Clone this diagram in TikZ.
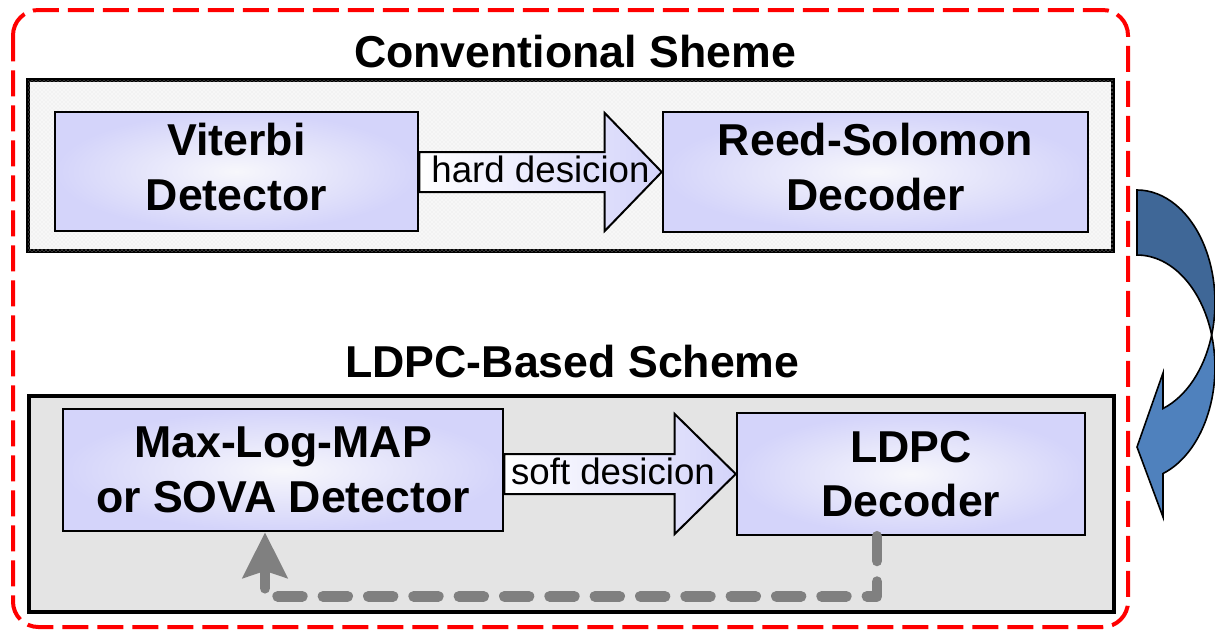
\documentclass[tikz,border=0pt]{standalone}
\usepackage{fontspec}
\setmainfont{Liberation Sans}
\usetikzlibrary{calc,arrows.meta,patterns}

\definecolor{boxedge}{HTML}{D4D4FA}
\definecolor{boxmid}{HTML}{F7F7FB}
\definecolor{lowpanel}{HTML}{E4E4E4}
\definecolor{toppanel}{HTML}{F7F7F7}
\definecolor{framered}{HTML}{FF0000}
\definecolor{fbgray}{HTML}{808080}
\definecolor{bluedark}{HTML}{3F6797}
\definecolor{bluelight}{HTML}{4F81BD}

\begin{document}
\begin{tikzpicture}[x=0.75pt,y=-0.75pt,
  panel/.style={draw=black, line width=2.6pt, inner sep=0pt},
  procbox/.style={draw=black, line width=1.9pt, shading=radial,
    inner color=boxmid, outer color=boxedge, align=center, inner sep=0pt,
    font=\fontsize{33.5}{41}\selectfont\bfseries},
  raisedtext/.style={text depth=7.5pt},
  heading/.style={anchor=base, inner sep=0pt, font=\fontsize{33.5}{40}\selectfont\bfseries},
  blockarrow/.style={draw=black, line width=1.5pt, line join=miter,
    left color=white, right color=boxedge},
  arrowlabel/.style={anchor=base, inner sep=0pt, font=\fontsize{27.5}{33}\selectfont},
  feedback/.style={draw=fbgray, line width=8pt, dash pattern=on 18.5pt off 15.5pt,
    line cap=round, line join=round,
    -{Stealth[length=34pt, width=33pt, inset=5pt, fill=fbgray]}},
  outerframe/.style={draw=framered, line width=3pt, dash pattern=on 19.5pt off 6.75pt,
    rounded corners=19pt},
  curvefill/.style={draw=black, line width=1.2pt, line join=miter}
]
\useasboundingbox (0,0) rectangle (1215,632);
\fill[white] (0,0) rectangle (1215,632);

% outer dashed frame
\draw[outerframe] (13,10) rectangle (1128,627);

% panels
\node[panel, fill=toppanel, minimum width=813.75pt, minimum height=128.25pt,
  postaction={pattern=crosshatch dots, pattern color=gray!22}]
  (toppanel) at (570.5,165.5) {};
\node[panel, fill=lowpanel, minimum width=813.75pt, minimum height=162pt]
  (lowpanel) at (571.5,504) {};

% headings
\node[heading] (conv) at (575,67) {Conventional Sheme};
\node[heading] (ldpcs) at (572.5,377) {LDPC-Based Scheme};

% processing blocks
\node[procbox, raisedtext, minimum width=272.25pt, minimum height=89.25pt] (vit) at (236.5,171.5)
  {Viterbi\\Detector};
\node[procbox, raisedtext, minimum width=318.75pt, minimum height=90pt] (rs) at (875.5,172)
  {Reed-Solomon\\Decoder};
\node[procbox, minimum width=330pt, minimum height=91.5pt] (maxlog) at (283,470)
  {Max-Log-MAP\\or SOVA Detector};
\node[procbox, minimum width=261pt, minimum height=91.5pt] (ldpc) at (911,474)
  {LDPC\\Decoder};

% hard decision block arrow
\path[blockarrow] ($(vit.east |- rs.west)+(0,-20)$) -- ($(rs.west)+(-57,-20)$)
  -- ($(rs.west)+(-57,-59)$) -- (rs.west) -- ($(rs.west)+(-57,59)$)
  -- ($(rs.west)+(-57,20)$) -- ($(vit.east |- rs.west)+(0,20)$) -- cycle;
\node[arrowlabel] (hard) at ($($(vit.east)!0.5!(rs.west)$)+(0,11)$) {hard desicion};

% soft decision block arrow
\path[blockarrow] ($(maxlog.east |- ldpc.west)+(0,-20)$) -- ($(ldpc.west)+(-61,-20)$)
  -- ($(ldpc.west)+(-61,-60)$) -- (ldpc.west) -- ($(ldpc.west)+(-61,60)$)
  -- ($(ldpc.west)+(-61,20)$) -- ($(maxlog.east |- ldpc.west)+(0,20)$) -- cycle;
\node[arrowlabel] (soft) at ($($(maxlog.east)!0.5!(ldpc.west)$)+(-7,12)$) {soft desicion};

% iterative feedback path
\coordinate (fbturn) at ($(maxlog.south)+(-18,64)$);
\draw[feedback] ($(ldpc.south)+(-34,0)$) |- (fbturn) -- ($(maxlog.south)+(-18,0)$);

% curved arrow from the upper scheme to the lower one
\path[curvefill, fill=bluelight] (1137,447) -- (1163,373) -- (1163,408.5)
  arc[start angle=70.5, end angle=16.8, x radius=78, y radius=112.5]
  arc[start angle=-16.8, end angle=70.5, x radius=78, y radius=112.5]
  -- (1163,517) -- cycle;
\path[curvefill, fill=bluedark] (1137,190)
  arc[start angle=-90, end angle=16.8, x radius=78, y radius=112.5]
  arc[start angle=-16.8, end angle=-90, x radius=78, y radius=112.5]
  -- cycle;
\end{tikzpicture}
\end{document}
